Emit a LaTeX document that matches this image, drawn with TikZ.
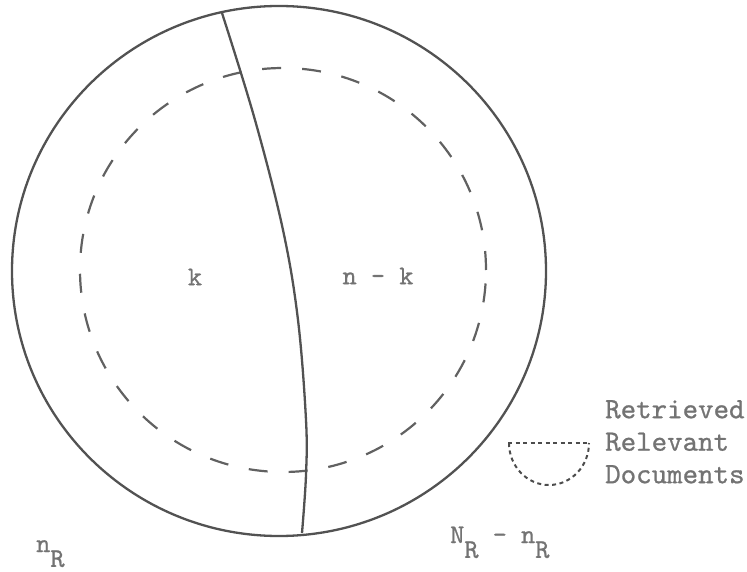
\documentclass[tikz,border=0pt]{standalone}
\usepackage{fontspec}
\newfontfamily\typew{lmmono10-regular}[Extension=.otf, FakeBold=0.8]
\newcommand\lowsub[1]{\raisebox{-0.55em}{#1}}
\tikzset{
  outline/.style={draw=black!68, line width=2.3pt},
  dashring/.style={draw=black!62, line width=2.2pt, dash pattern=on 19pt off 21pt},
  legdash/.style={draw=black!70, line width=2pt, dash pattern=on 4pt off 3.5pt},
  lbl/.style={text=black!55, font=\typew\fontsize{27}{31}\selectfont, inner sep=0pt},
  leg/.style={text=black!55, font=\typew\fontsize{29.5}{32.5}\selectfont, inner sep=0pt, align=left}
}
\begin{document}
\begin{tikzpicture}[x=1pt,y=-1pt]
\useasboundingbox (0,0) rectangle (747,572);
% outer ellipse
\draw[outline] (279,271) ellipse [x radius=267pt, y radius=265pt];
% dashed ring
\draw[dashring] (283,270) ellipse [x radius=203pt, y radius=202pt];
% dividing curve
\draw[outline] plot[smooth, tension=0.6] coordinates {(222,13) (255,120) (283,230) (298,320) (306,420) (306,475) (302,533)};
% labels
\node[lbl] (k) at (195,277) {k};
\node[lbl] (nk) at (378,276) {n - k};
\node[lbl, anchor=base west] (nR) at (36,552) {n\lowsub{R}};
\node[lbl, anchor=base west] (NR) at (450,543) {N\lowsub{R} - n\lowsub{R}};
% legend
\draw[legdash] (508,443) -- (590,443);
\draw[legdash] (509,443) arc[start angle=180, end angle=360, x radius=40pt, y radius=42pt];
\node[leg, anchor=north west] (legend) at (605,400) {Retrieved\\Relevant\\Documents};
\end{tikzpicture}
\end{document}
